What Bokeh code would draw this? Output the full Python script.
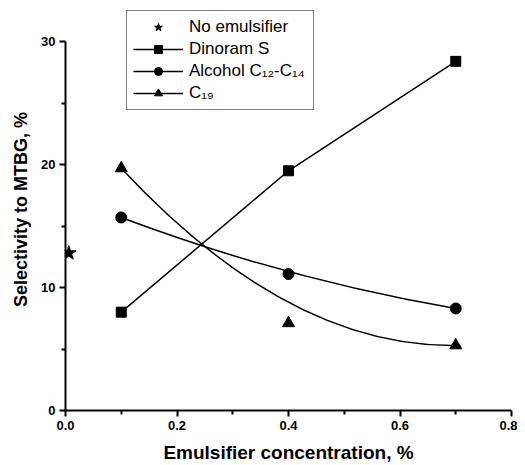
from bokeh.plotting import figure
from bokeh.models import FixedTicker, Legend, LegendItem, Range1d
from bokeh.embed import file_html
from bokeh.resources import INLINE

# ---- data ----
x_conc = [0.1, 0.4, 0.7]
no_emul_x = [0.006]
no_emul_y = [12.8]
dinoram = [8.0, 19.5, 28.4]
alcohol = [15.7, 11.1, 8.3]
c19 = [19.7, 7.1, 5.3]
# smoothed curves drawn in the original, values read at x_conc
alcohol_curve = [15.7, 11.3, 8.3]
c19_curve = [19.7, 8.8, 5.3]

x_ticks = [0.0, 0.2, 0.4, 0.6, 0.8]
x_tick_labels = ["0.0", "0.2", "0.4", "0.6", "0.8"]
x_minor = [0.1, 0.3, 0.5, 0.7]
y_ticks = [0, 10, 20, 30]
y_tick_labels = ["0", "10", "20", "30"]
y_minor = [5, 15, 25]

FONT = "Liberation Sans"

# frame extends above 30 so the legend (which sits above the axis top) fits
p = figure(width=517, height=465, output_backend="svg", toolbar_location=None,
           x_range=Range1d(0, 0.8), y_range=Range1d(0, 32.7),
           min_border_left=65, min_border_right=6, min_border_top=8,
           min_border_bottom=52)
p.outline_line_color = None
p.xgrid.grid_line_color = None
p.ygrid.grid_line_color = None
p.background_fill_color = "white"
p.border_fill_color = "white"

def quad(curve):
    cy = 2 * curve[1] - (curve[0] + curve[2]) / 2
    return dict(x0=[x_conc[0]], y0=[curve[0]], x1=[x_conc[2]], y1=[curve[2]],
                cx=[x_conc[1]], cy=[cy])

lw = 1.5
r_din_line = p.line(x_conc, dinoram, line_color="black", line_width=lw)
r_alc_line = p.quadratic(**quad(alcohol_curve), line_color="black", line_width=lw)
r_c19_line = p.quadratic(**quad(c19_curve), line_color="black", line_width=lw)

r_star = p.scatter(no_emul_x, no_emul_y, marker="star", size=15, color="black")
r_din = p.scatter(x_conc, dinoram, marker="square", size=10, color="black")
r_alc = p.scatter(x_conc, alcohol, marker="circle", size=11, color="black")
r_c19 = p.scatter(x_conc, c19, marker="triangle", size=12, color="black")

# axes
for ax in (p.xaxis[0], p.yaxis[0]):
    ax.axis_line_width = 2
    ax.axis_line_color = "black"
    ax.major_tick_line_width = 2
    ax.minor_tick_line_width = 2
    ax.major_tick_line_color = "black"
    ax.minor_tick_line_color = "black"
    ax.major_tick_in = 0
    ax.major_tick_out = 6
    ax.minor_tick_in = 0
    ax.minor_tick_out = 4
    ax.major_label_text_font = FONT
    ax.major_label_text_font_style = "bold"
    ax.major_label_text_font_size = "13px"
    ax.major_label_text_color = "black"
    ax.axis_label_text_font = FONT
    ax.axis_label_text_font_style = "bold"
    ax.axis_label_text_color = "black"

p.yaxis.bounds = (0, 30)
p.xaxis.axis_label_text_font_size = "19px"
p.yaxis.axis_label_text_font_size = "18px"
p.xaxis.ticker = FixedTicker(ticks=x_ticks, minor_ticks=x_minor)
p.yaxis.ticker = FixedTicker(ticks=y_ticks, minor_ticks=y_minor)
p.xaxis.major_label_overrides = dict(zip(x_ticks, x_tick_labels))
p.yaxis.major_label_overrides = dict(zip(y_ticks, y_tick_labels))
p.xaxis.axis_label = "Emulsifier concentration, %"
p.yaxis.axis_label = "Selectivity to MTBG, %"
p.xaxis.major_label_standoff = 4
p.yaxis.major_label_standoff = 4
p.xaxis.axis_label_standoff = 9
p.yaxis.axis_label_standoff = 7

legend = Legend(items=[
    LegendItem(label="No emulsifier", renderers=[r_star]),
    LegendItem(label="Dinoram S", renderers=[r_din_line, r_din]),
    LegendItem(label="Alcohol C\u2081\u2082-C\u2081\u2084", renderers=[r_alc_line, r_alc]),
    LegendItem(label="C\u2081\u2089", renderers=[r_c19_line, r_c19]),
], location=(61, 300))
legend.border_line_color = "black"
legend.border_line_width = 1
legend.background_fill_alpha = 1
legend.padding = 6
legend.spacing = 2
legend.glyph_width = 50
legend.glyph_height = 20
legend.label_height = 20
legend.label_width = 118
legend.label_standoff = 6
legend.label_text_font = FONT
legend.label_text_font_size = "17px"
legend.label_text_color = "black"
legend.margin = 0
p.add_layout(legend, "center")

open("out.html", "w").write(file_html(p, INLINE))
